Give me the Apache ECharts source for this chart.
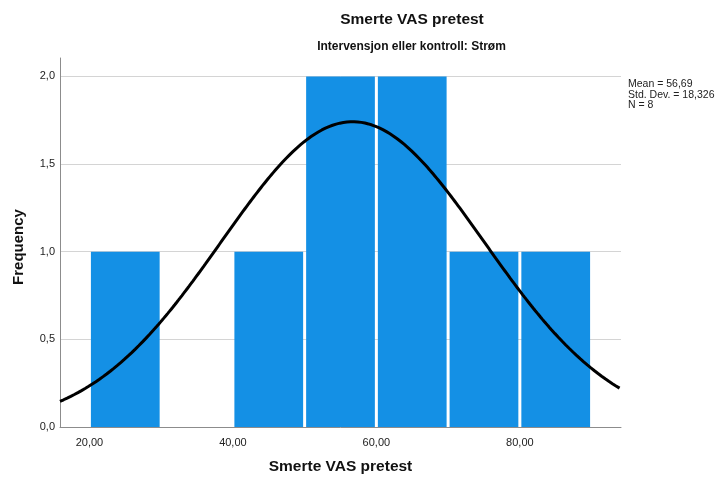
<!DOCTYPE html>
<html>
<head>
<meta charset="utf-8">
<script src="https://cdn.jsdelivr.net/npm/echarts@6/dist/echarts.min.js"></script>
<style>html,body{margin:0;padding:0;background:#fff;}#chart{width:718px;height:477px;}</style>
</head>
<body>
<div id="chart"></div>
<script>
// Histogram bins (lower edge, upper edge) and frequencies
const binStarts = [20, 30, 40, 50, 60, 70, 80];
const binEnds   = [30, 40, 50, 60, 70, 80, 90];
const counts    = [1, 0, 1, 2, 2, 1, 1];
// Statistics shown on the chart (normal curve parameters)
const meanVal = 56.69;
const sdVal = 18.326;
const nVal = 8;
const binWidth = 10;
// Tick labels
const xTicks = [20, 40, 60, 80];
const yTicks = [0, 0.5, 1.0, 1.5, 2.0];

const titleText = 'Smerte VAS pretest';
const subtitleText = 'Intervensjon eller kontroll: Strøm';
const xTitle = 'Smerte VAS pretest';
const yTitle = 'Frequency';
const statsLines = ['Mean = 56,69', 'Std. Dev. = 18,326', 'N = 8'];

const xMin = 15.9, xMax = 94.1;

// Fitted normal curve (from the stated mean, SD and N)
const curve = [];
for (let x = xMin; x <= xMax + 1e-9; x += 0.25) {
  const z = (x - meanVal) / sdVal;
  curve.push([x, nVal * binWidth / (sdVal * Math.sqrt(2 * Math.PI)) * Math.exp(-0.5 * z * z)]);
}

const barData = binStarts.map((s, i) => [s, binEnds[i], counts[i]]);
const fmtComma = (v, d) => v.toFixed(d).replace('.', ',');

const chart = echarts.init(document.getElementById('chart'), null, {renderer: 'canvas'});
const font = '"Liberation Sans", Arial, sans-serif';

chart.setOption({
  animation: false,
  backgroundColor: '#fff',
  grid: {left: 60, right: 97, top: 58, bottom: 50, containLabel: false},
  xAxis: {
    type: 'value', min: xMin, max: xMax,
    axisLine: {show: true, lineStyle: {color: '#8c8c8c', width: 1}},
    axisTick: {show: false},
    splitLine: {show: false},
    axisLabel: {
      customValues: xTicks,
      formatter: v => fmtComma(v, 2),
      color: '#222', fontSize: 11, fontFamily: font, margin: 10
    }
  },
  yAxis: {
    type: 'value', min: 0, max: 2.105, interval: 0.5,
    axisLine: {show: true, lineStyle: {color: '#8c8c8c', width: 1}},
    axisTick: {show: false},
    splitLine: {show: true, showMaxLine: false, lineStyle: {color: '#d4d4d4', width: 1}},
    axisLabel: {
      customValues: yTicks,
      formatter: v => fmtComma(v, 1),
      color: '#222', fontSize: 11, fontFamily: font, margin: 5
    }
  },
  series: [
    {
      type: 'custom',
      data: barData,
      encode: {x: [0, 1], y: 2},
      renderItem: function (params, api) {
        const cnt = api.value(2);
        if (!cnt) return null;
        const p0 = api.coord([api.value(0), 0]);
        const p1 = api.coord([api.value(1), cnt]);
        return {
          type: 'rect',
          shape: {x: p0[0] + 1.5, y: p1[1], width: p1[0] - p0[0] - 3, height: p0[1] - p1[1]},
          style: {fill: '#1490e5'}
        };
      },
      z: 2
    },
    {
      type: 'line',
      data: curve,
      showSymbol: false,
      smooth: false,
      lineStyle: {color: '#000', width: 3},
      z: 3
    }
  ],
  graphic: [
    {type: 'text', x: 412, y: 20, style: {text: titleText, font: 'bold 15.5px ' + font, fill: '#111', textAlign: 'center', textVerticalAlign: 'middle'}},
    {type: 'text', x: 411.5, y: 47, style: {text: subtitleText, font: 'bold 12px ' + font, fill: '#111', textAlign: 'center', textVerticalAlign: 'middle'}},
    {type: 'text', x: 340.5, y: 467, style: {text: xTitle, font: 'bold 15.5px ' + font, fill: '#111', textAlign: 'center', textVerticalAlign: 'middle'}},
    {type: 'text', x: 19, y: 247, rotation: Math.PI / 2, style: {text: yTitle, font: 'bold 15px ' + font, fill: '#111', textAlign: 'center', textVerticalAlign: 'middle'}},
    {type: 'text', x: 628, y: 79, style: {text: statsLines.join('\n'), font: '10.5px ' + font, lineHeight: 10.5, fill: '#222', textAlign: 'left', textVerticalAlign: 'top'}}
  ]
});
</script>
</body>
</html>
